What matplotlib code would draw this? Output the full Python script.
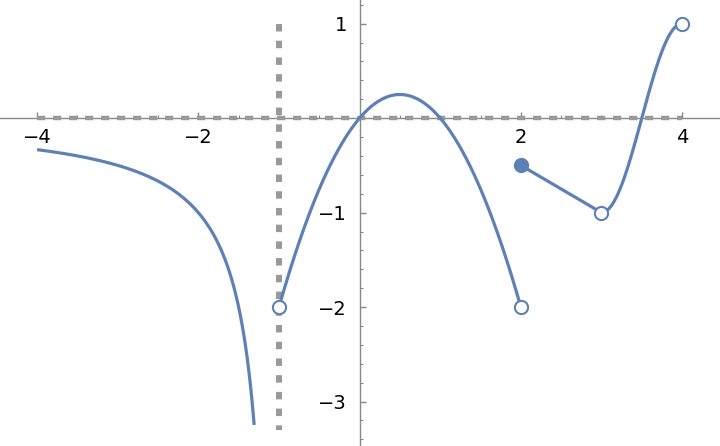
import numpy as np
import matplotlib
matplotlib.use("Agg")
import matplotlib.pyplot as plt
from matplotlib.ticker import MultipleLocator, FixedLocator

# ---- data (piecewise function shown in the chart) ----
x_ticks = [-4, -2, 2, 4]
x_tick_labels = ["\u22124", "\u22122", "2", "4"]
y_ticks = [-3, -2, -1, 1]
y_tick_labels = ["\u22123", "\u22122", "\u22121", "1"]

piece1_x = np.linspace(-4, -1.308, 300)
piece1_y = 1.0 / (piece1_x + 1.0)            # hyperbola left of asymptote
piece2_x = np.linspace(-1, 2, 300)
piece2_y = piece2_x - piece2_x ** 2          # parabola
piece3_x = [2, 3]
piece3_y = [-0.5, -1]                        # line segment
piece4_x = np.linspace(3, 4, 200)
piece4_y = -np.cos(np.pi * (piece4_x - 3))   # rising curve

filled_pts_x = [2]
filled_pts_y = [-0.5]
open_pts_x = [-1, 2, 3, 4]
open_pts_y = [-2, -2, -1, 1]

asymptote_x = -1
asymptote_y_range = [1, -3.3]
hline_y = 0
hline_x_range = [-4, 4]

# ---- style ----
blue = "#5E81B5"
gray = "#999999"

fig = plt.figure(figsize=(7.2, 4.46), dpi=100)
ax = fig.add_axes([0, 0, 1, 1])
ax.set_xlim(-4.46, 4.47)
ax.set_ylim(-3.47, 1.25)

# dashed reference lines
ax.plot(hline_x_range, [hline_y, hline_y], color=gray, lw=3.2,
        dashes=(1.85, 1.75), dash_capstyle="butt", zorder=2)
ax.plot([asymptote_x, asymptote_x], asymptote_y_range, color=gray, lw=4.3,
        dashes=(1.25, 1.55), dash_capstyle="butt", zorder=2)

for xs, ys in [(piece1_x, piece1_y), (piece2_x, piece2_y),
               (piece3_x, piece3_y), (piece4_x, piece4_y)]:
    ax.plot(xs, ys, color=blue, lw=2.3, solid_capstyle="butt", zorder=3)

ax.plot(open_pts_x, open_pts_y, "o", ms=9.5, mfc="white", mec=blue, mew=1.5, zorder=4)
ax.plot(filled_pts_x, filled_pts_y, "o", ms=9.5, mfc=blue, mec=blue, mew=1.5, zorder=4)

# axes through the origin
for s in ["top", "right"]:
    ax.spines[s].set_visible(False)
ax.spines["left"].set_position(("data", 0))
ax.spines["bottom"].set_position(("data", 0))
for s in ["left", "bottom"]:
    ax.spines[s].set_color("#888888")
    ax.spines[s].set_linewidth(1.0)
    ax.spines[s].set_zorder(1)

ax.xaxis.set_major_locator(FixedLocator(x_ticks))
ax.set_xticklabels(x_tick_labels)
ax.yaxis.set_major_locator(FixedLocator(y_ticks))
ax.set_yticklabels(y_tick_labels)
ax.xaxis.set_minor_locator(MultipleLocator(0.5))
ax.yaxis.set_minor_locator(MultipleLocator(0.2))

ax.tick_params(which="major", direction="in", length=4.5, width=1, color="#888888",
               labelsize=14, labelcolor="black", pad=9)
ax.tick_params(which="minor", direction="in", length=2.5, width=0.8, color="#888888")
ax.tick_params(axis="x", which="major", pad=7)

fig.savefig("out.png", dpi=100)
